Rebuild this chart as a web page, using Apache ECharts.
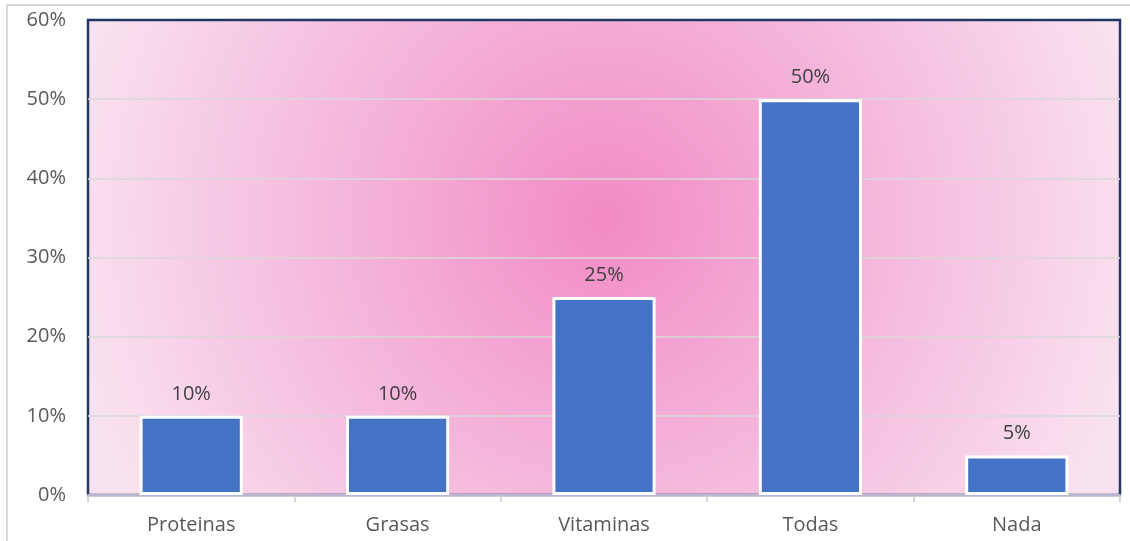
<!DOCTYPE html>
<html>
<head>
<meta charset="utf-8">
<script src="https://cdn.jsdelivr.net/npm/echarts@6/dist/echarts.min.js"></script>
<style>
  html, body { margin: 0; padding: 0; background: #ffffff; }
  #chart { width: 1130px; height: 541px; }
</style>
</head>
<body>
<div id="chart"></div>
<script>
// Nutrient categories and share of answers (percent)
const categories = ['Proteinas', 'Grasas', 'Vitaminas', 'Todas', 'Nada'];
const shares = [10, 10, 25, 50, 5];
const yTicks = { min: 0, max: 60, interval: 10 };

const chart = echarts.init(document.getElementById('chart'), null, { renderer: 'canvas' });

const font = '"Open Sans", Lato, "Liberation Sans", sans-serif';

chart.setOption({
  animation: false,
  backgroundColor: '#ffffff',
  graphic: [{
    type: 'rect',
    silent: true,
    z: -10,
    shape: { x: 7, y: 5, width: 1140, height: 560 },
    style: { fill: 'none', stroke: '#d9d9d9', lineWidth: 2 }
  }],
  grid: {
    left: 88, right: 10, top: 20, bottom: 46,
    show: true,
    borderColor: '#203864',
    borderWidth: 2.5,
    backgroundColor: {
      type: 'radial', x: 0.5, y: 0.42, r: 1.15,
      colorStops: [
        { offset: 0, color: '#f28ac6' },
        { offset: 0.45, color: '#f4b3d9' },
        { offset: 1, color: '#f9e3f0' }
      ]
    }
  },
  xAxis: {
    type: 'category',
    data: categories,
    axisLine: { show: true, lineStyle: { color: '#b9b6cf', width: 2 } },
    axisTick: { show: true, length: 7, lineStyle: { color: '#c8c8c8', width: 1.5 } },
    axisLabel: { color: '#595959', fontSize: 20, fontFamily: font, margin: 20 }
  },
  yAxis: {
    type: 'value',
    min: yTicks.min, max: yTicks.max, interval: yTicks.interval,
    axisLine: { show: false },
    axisTick: { show: false },
    splitLine: { showMinLine: false, showMaxLine: false, lineStyle: { color: '#d9d9d9', width: 1.5 } },
    axisLabel: {
      color: '#595959', fontSize: 20, fontFamily: font, margin: 22,
      formatter: v => v + '%'
    }
  },
  series: [{
    type: 'bar',
    data: shares,
    barWidth: '50%',
    itemStyle: { color: '#4472c4', borderColor: '#ffffff', borderWidth: 3 },
    label: {
      show: true, position: 'top', distance: 12,
      color: '#404040', fontSize: 20, fontFamily: font,
      formatter: p => p.value + '%'
    }
  }]
});
</script>
</body>
</html>
